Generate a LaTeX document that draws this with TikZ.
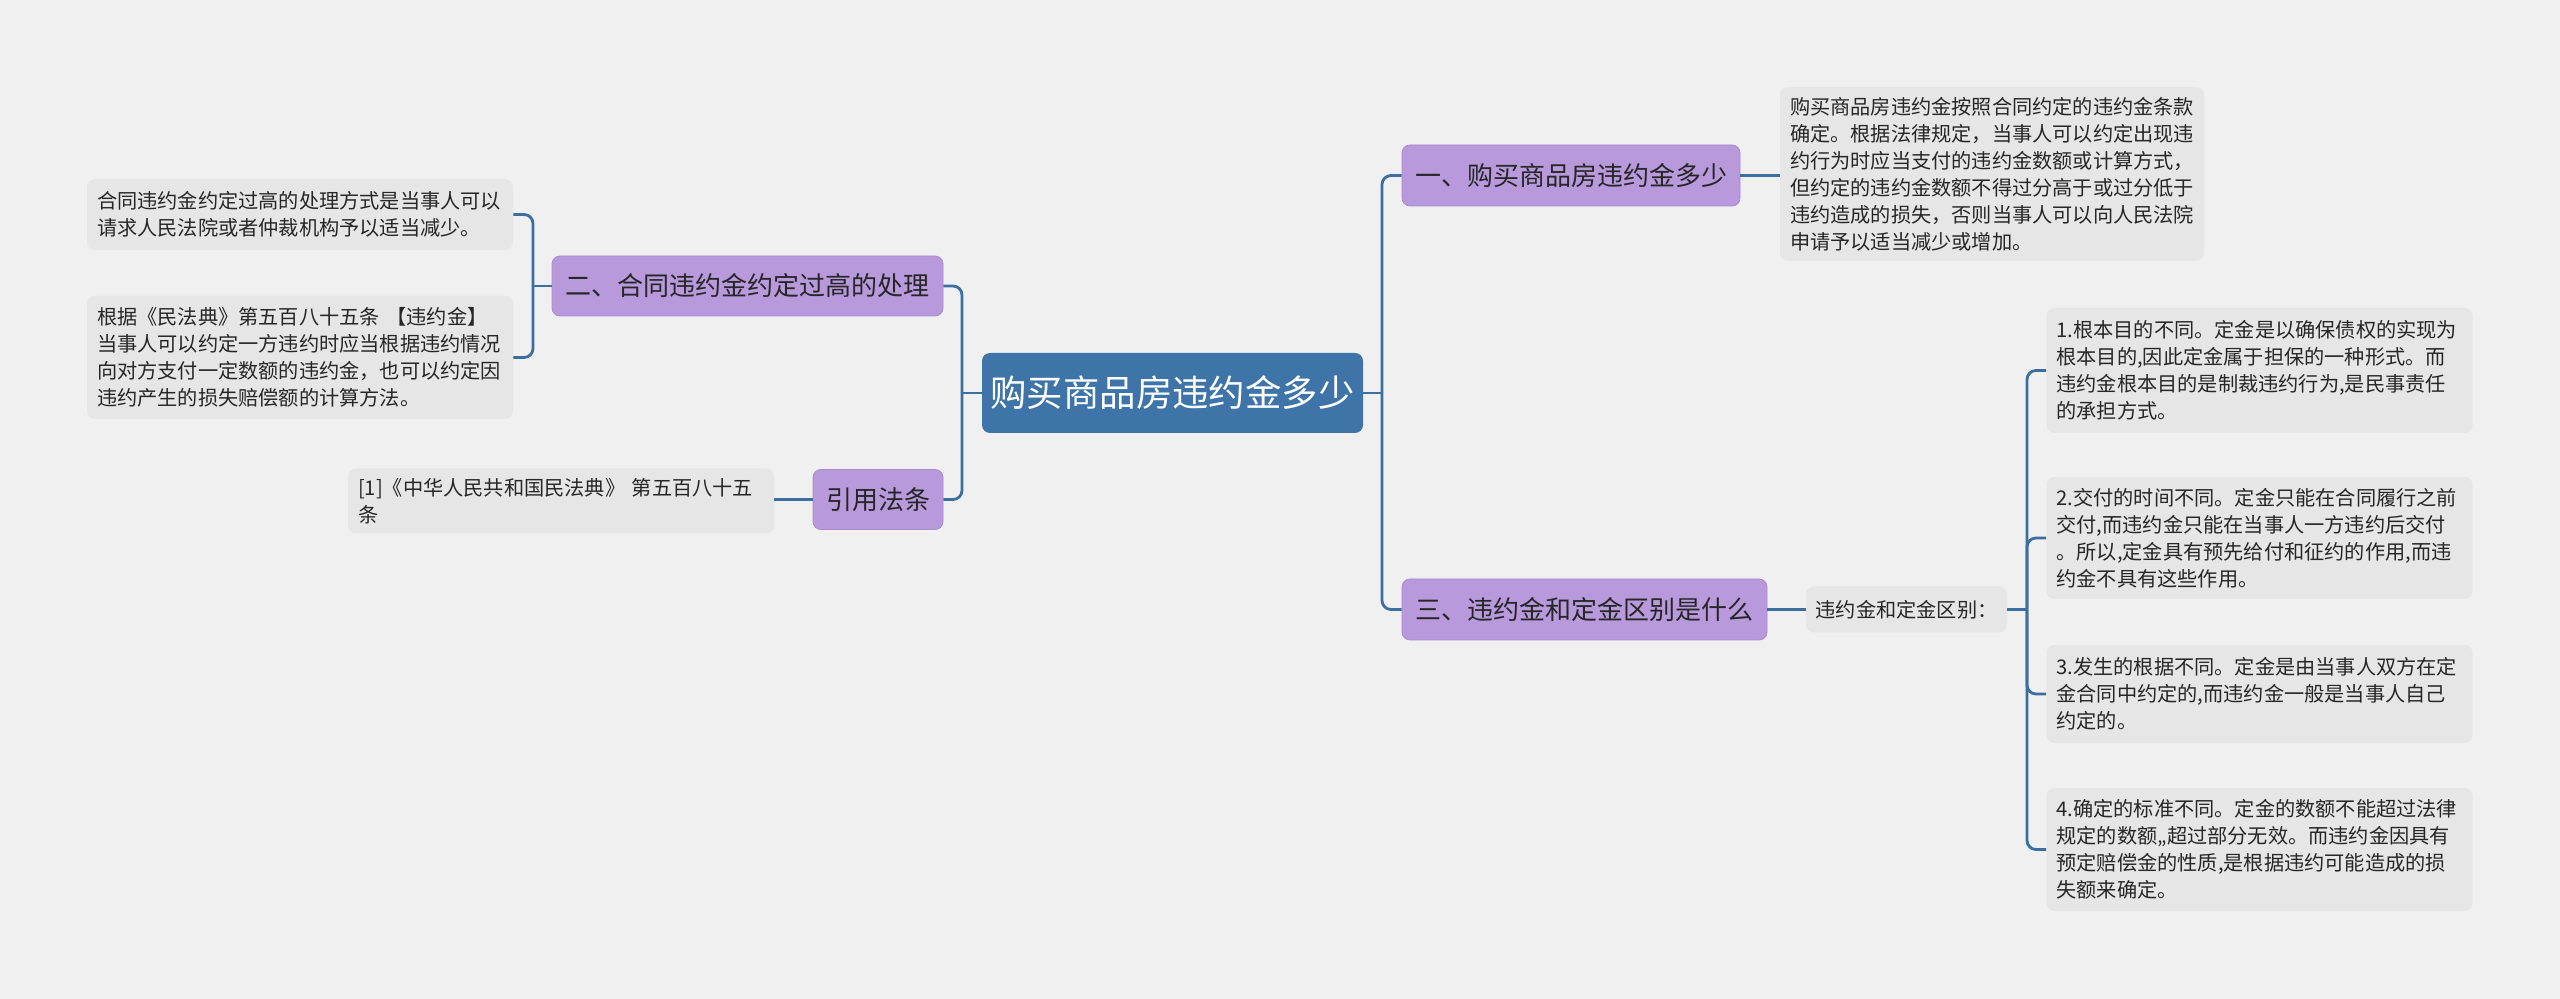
\documentclass[tikz,border=0pt]{standalone}
\usepackage{fontspec}
\setmainfont{Noto Sans CJK SC}
\definecolor{bgc}{HTML}{F0F0F0}
\definecolor{boxc}{HTML}{E6E6E6}
\definecolor{purp}{HTML}{B899DB}
\definecolor{purpd}{HTML}{A98AD0}
\definecolor{rootc}{HTML}{3E74A8}
\definecolor{linec}{HTML}{3B6FA0}
\definecolor{textc}{HTML}{262626}
\begin{document}
\begin{tikzpicture}[x=0.5pt,y=-0.5pt,
  conn/.style={draw=linec,line width=1.4pt,rounded corners=4.5pt},
  rootbox/.style={fill=rootc,rounded corners=4pt,text=white,font=\fontsize{18.2pt}{22pt}\selectfont,inner sep=0pt},
  topic/.style={fill=purp,draw=purpd,line width=0.4pt,rounded corners=4pt,text=textc,font=\fontsize{13pt}{16pt}\selectfont,inner sep=0pt},
  note/.style={fill=boxc,rounded corners=4pt,text=textc,font=\fontsize{10.1pt}{13.5pt}\selectfont,align=left,inner xsep=5pt,inner ysep=0pt,text width=203pt}]
\useasboundingbox (0,0) rectangle (2560,999);
\fill[bgc] (0,0) rectangle (2560,999);

% root
\node[rootbox,minimum width=190.5pt,minimum height=40pt] (root) at (1172.5,393) {购买商品房违约金多少};

% right topics
\node[topic,minimum width=169pt,minimum height=30.5pt] (n1) at (1571,175.5) {一、购买商品房违约金多少};
\node[topic,minimum width=182.5pt,minimum height=30.5pt] (n3) at (1584.5,609.5) {三、违约金和定金区别是什么};

% left topics
\node[topic,minimum width=195.5pt,minimum height=30pt] (n2) at (747.5,286) {二、合同违约金约定过高的处理};
\node[topic,minimum width=65pt,minimum height=30pt] (n4) at (878,499.5) {引用法条};

% notes
\node[note,text width=202pt,minimum height=87pt] (t1) at (1992,174) {购买商品房违约金按照合同约定的违约金条款\\确定。根据法律规定，当事人可以约定出现违\\约行为时应当支付的违约金数额或计算方式，\\但约定的违约金数额不得过分高于或过分低于\\违约造成的损失，否则当事人可以向人民法院\\申请予以适当减少或增加。};

\node[note,text width=,align=center,inner xsep=0pt,minimum width=100.5pt,minimum height=23pt] (t3) at (1906.5,609.5) {违约金和定金区别：};

\node[note,minimum height=62.5pt] (b1) at (2259.5,370.5) {1.根本目的不同。定金是以确保债权的实现为\\根本目的,因此定金属于担保的一种形式。而\\违约金根本目的是制裁违约行为,是民事责任\\的承担方式。};
\node[note,minimum height=61pt] (b2) at (2259.5,538) {2.交付的时间不同。定金只能在合同履行之前\\交付,而违约金只能在当事人一方违约后交付\\。所以,定金具有预先给付和征约的作用,而违\\约金不具有这些作用。};
\node[note,minimum height=49pt] (b3) at (2259.5,694) {3.发生的根据不同。定金是由当事人双方在定\\金合同中约定的,而违约金一般是当事人自己\\约定的。};
\node[note,minimum height=61.5pt] (b4) at (2259.5,849.5) {4.确定的标准不同。定金的数额不能超过法律\\规定的数额,,超过部分无效。而违约金因具有\\预定赔偿金的性质,是根据违约可能造成的损\\失额来确定。};

\node[note,minimum height=35.5pt] (a1) at (300,214.5) {合同违约金约定过高的处理方式是当事人可以\\请求人民法院或者仲裁机构予以适当减少。};
\node[note,minimum height=61.5pt] (a2) at (300,357.5) {根据《民法典》第五百八十五条 【违约金】\\当事人可以约定一方违约时应当根据违约情况\\向对方支付一定数额的违约金，也可以约定因\\违约产生的损失赔偿额的计算方法。};
\node[note,minimum height=32.5pt] (c1) at (561,501) {[1]《中华人民共和国民法典》 第五百八十五\\条};

% junctions
\coordinate (jR) at (1382,393);
\coordinate (jL) at (962,393);
\coordinate (j2) at (533,286);
\coordinate (j3) at (2027,609.5);

% connectors
\draw[conn] (root.east) -- (jR);
\draw[conn] (jR) |- (n1.west);
\draw[conn] (jR) |- (n3.west);
\draw[conn] (root.west) -- (jL);
\draw[conn] (jL) |- (n2.east);
\draw[conn] (jL) |- (n4.east);
\draw[conn] (n1.east) -- (n1.east -| t1.west);
\draw[conn] (n3.east) -- (n3.east -| t3.west);
\draw[conn] (t3.east) -- (j3);
\draw[conn] (j3) |- (b1.west);
\draw[conn] (j3) |- (b2.west);
\draw[conn] (j3) |- (b3.west);
\draw[conn] (j3) |- (b4.west);
\draw[conn] (n2.west) -- (j2);
\draw[conn] (j2) |- (a1.east);
\draw[conn] (j2) |- (a2.east);
\draw[conn] (n4.west) -- (n4.west -| c1.east);
\end{tikzpicture}
\end{document}
